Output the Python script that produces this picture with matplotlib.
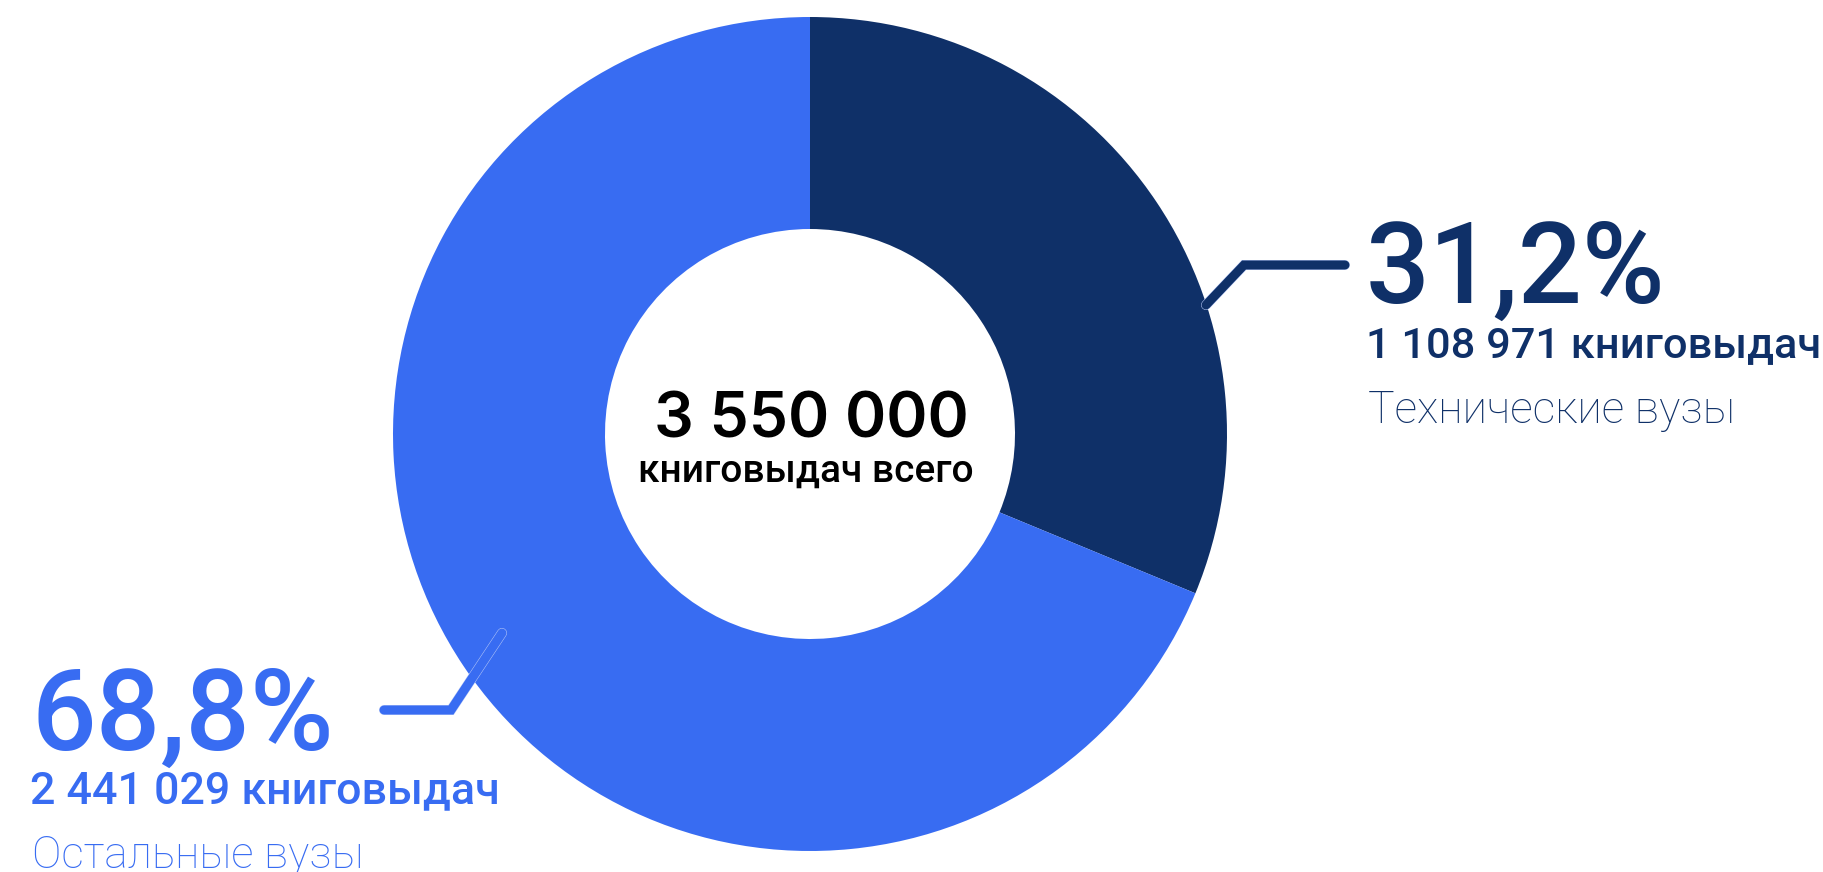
import matplotlib
matplotlib.use("Agg")
import matplotlib.pyplot as plt
import matplotlib.patheffects as pe

# ---- data ----
categories = ["Технические вузы", "Остальные вузы"]
values = [1108971, 2441029]
percent_labels = ["31,2%", "68,8%"]
count_labels = ["1 108 971 книговыдач", "2 441 029 книговыдач"]
total_label = "3 550 000"
total_sub = "книговыдач всего"
colors = ["#0F3068", "#386CF2"]

W, H = 1824, 872
fig = plt.figure(figsize=(W / 100, H / 100), dpi=100)
ax = fig.add_axes([0, 0, 1, 1])

def Y(y):
    return H - y

cx, cy, R = 810, Y(434), 417
ax.pie(values, colors=colors, startangle=90, counterclock=False,
       radius=R, center=(cx, cy),
       wedgeprops=dict(width=212, linewidth=0))
ax.set_xlim(0, W)
ax.set_ylim(0, H)
ax.set_aspect("equal")
ax.axis("off")

FONT = ["Roboto", "DejaVu Sans"]
CFONT = ["Inter", "Roboto", "DejaVu Sans"]
lw = 6.5
outline = [pe.Stroke(linewidth=lw + 0.7, foreground="#B8C9F8"), pe.Normal()]

# leader lines
ax.plot([1206, 1244, 1345], [Y(305), Y(265), Y(265)], color=colors[0], lw=lw,
        solid_capstyle="round", solid_joinstyle="miter", path_effects=outline)
ax.plot([502, 451, 384], [Y(633), Y(710), Y(710)], color=colors[1], lw=lw,
        solid_capstyle="round", solid_joinstyle="miter", path_effects=outline)

# right labels
ax.text(1366, Y(303), percent_labels[0], color=colors[0], fontsize=81,
        fontweight="medium", family=FONT, va="baseline", ha="left")
ax.text(1366, Y(357), count_labels[0], color=colors[0], fontsize=31.2,
        fontweight="medium", family=FONT, va="baseline", ha="left")
ax.text(1368, Y(423), categories[0], color=colors[0], fontsize=32,
        fontweight="light", family=FONT, va="baseline", ha="left")

# left labels
ax.text(32, Y(750), percent_labels[1], color=colors[1], fontsize=82,
        fontweight="medium", family=FONT, va="baseline", ha="left")
ax.text(30, Y(803), count_labels[1], color=colors[1], fontsize=32.2,
        fontweight="medium", family=FONT, va="baseline", ha="left")
ax.text(32, Y(868), categories[1], color=colors[1], fontsize=31.8,
        fontweight="light", family=FONT, va="baseline", ha="left")

# center
ax.text(811, Y(437), total_label, color="black", fontsize=45,
        fontweight="semibold", family=CFONT, va="baseline", ha="center")
ax.text(806, Y(482), total_sub, color="black", fontsize=28,
        fontweight="medium", family=FONT, va="baseline", ha="center")

fig.savefig("out.png", dpi=100, facecolor="white")
